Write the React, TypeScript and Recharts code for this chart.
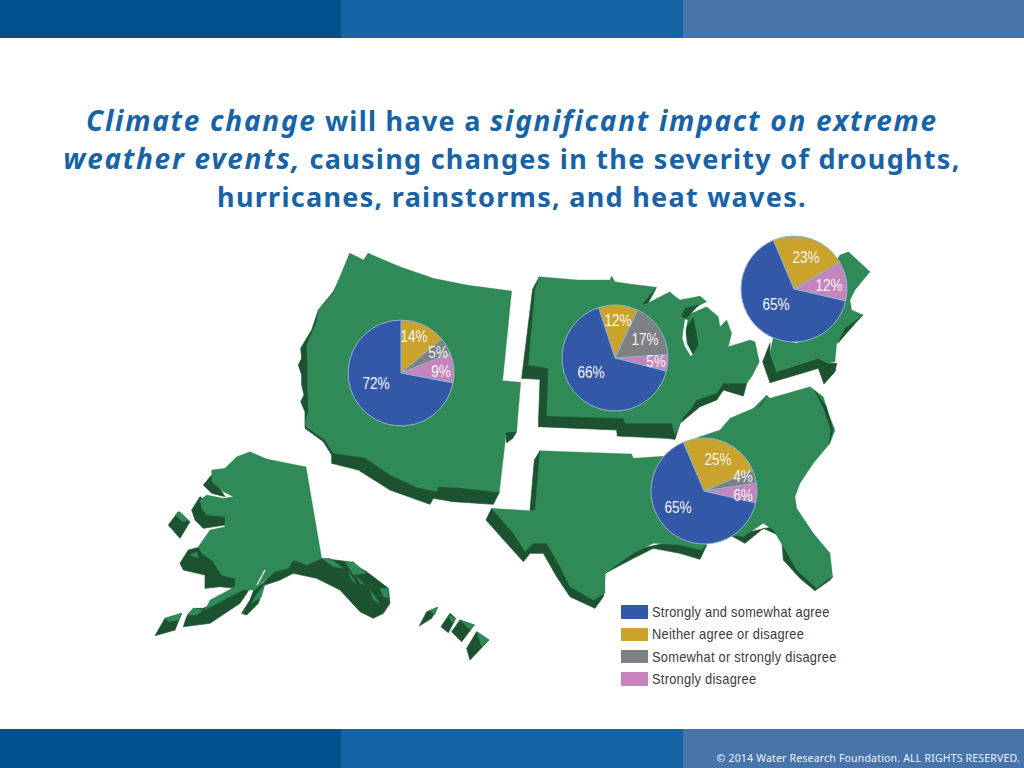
import { Legend, Pie, PieChart } from 'recharts'

const WIDTH = 1024
const HEIGHT = 768

// answer categories, same order in every pie (clockwise from the start angle)
const categories = ['Neither agree or disagree', 'Somewhat or strongly disagree', 'Strongly disagree', 'Strongly and somewhat agree']
const legendOrder = [3, 0, 1, 2]

const westValues = [14, 5, 9, 72]
const midwestValues = [12, 17, 5, 66]
const northeastValues = [23, 0, 12, 65]
const southValues = [25, 4, 6, 65]

const COLORS = ['#c9a32c', '#7e8083', '#c584bc', '#3458a8']
const GREEN = '#2f8a57'
const DARK = '#1c5230'

// pie placement, label nudges from pie centre
const R = 53
const pies = [
  { name: 'West', values: westValues, cx: 401, cy: 373, start: 0, offsets: [[13, -37], [37, -21], [40, -2], [-25, 10]] },
  { name: 'Midwest', values: midwestValues, cx: 615, cy: 358, start: -18, offsets: [[3, -38], [30, -19], [41, 3], [-24, 14]] },
  { name: 'Northeast', values: northeastValues, cx: 794, cy: 289, start: -23, offsets: [[12, -32], [0, 0], [35, -4], [-18, 15]] },
  { name: 'South', values: southValues, cx: 704, cy: 491, start: -23, offsets: [[14, -32], [39, -15], [39, 4], [-26, 16]] },
]

// map outlines, traced in 3x crop coordinates
const westShadow = [
  '180,55 150,130 130,170 85,225 65,285 32,340 35,370 25,390 35,420 35,450 42,480 32,500 45,530 45,580 100,620 125,660 125,685 205,705 300,765 420,808 430,790 490,800 610,808 628,772 400,700 200,600 100,300',
  '222,75 212,105 235,55',
  '680,590 668,610 650,623 645,590',
]
const westLand = '180,55 222,75 235,55 330,95 430,130 530,150 665,168 638,437 692,442 680,590 648,592 645,625 628,772 505,758 445,755 440,770 380,757 300,720 225,668 130,655 120,640 105,615 48,575 45,560 55,530 52,440 52,380 50,330 80,260 85,225 130,175 160,100'

const midwestShadow = [
  '58,140 38,178 5,445 60,448 55,590 290,600 292,618 440,625 465,628 480,580 510,555 540,530 590,510 610,480 670,498 680,460 400,400 100,300',
]
const midwestLand = '58,140 175,150 270,150 275,138 285,155 330,162 410,172 385,218 450,185 460,195 480,210 540,198 560,215 540,225 495,250 480,265 560,230 595,260 600,290 620,270 635,310 625,350 690,330 705,335 718,395 695,440 680,460 610,460 590,490 530,510 510,540 490,560 465,615 455,580 315,580 310,565 80,558 85,415 25,405 45,180'
const midwestOver = [
  '483,262 495,235 540,222 500,265',
  '500,290 520,262 530,310 535,345 520,372 505,345 497,310',
  '410,172 385,218 365,225',
]
const lakeWhite = '495,268 490,300 487,325 495,350 512,378 518,374 500,340 497,300 503,270'

const northeastShadow = ['750,340 728,395 750,458 895,415 912,462 945,425 950,400 925,400 895,385 770,425 750,370']
const northeastLand = '960,75 985,65 1050,125 1005,180 990,210 995,240 1030,255 1010,275 950,340 945,395 925,400 895,385 770,425 750,370 760,320 830,340 900,300 975,210 950,90'
const northeastOver = ['1030,255 1010,275 950,345 975,295']

const southShadow = [
  '180,212 163,240 150,392 180,392',
  '35,385 18,420 85,495 130,545 150,520 190,520 230,590 270,650 345,685 370,650 375,580 300,500 100,440',
  '375,580 460,535 520,505 600,520 660,538 680,495 600,480 460,510',
  '750,465 795,490 850,445 905,470 910,540 960,595 1005,632 1050,600 1058,590 1010,610 950,560 880,440 790,460',
]
const southLand = '180,212 455,222 460,235 560,228 610,190 660,170 720,150 750,115 820,85 860,45 870,55 990,20 1030,50 1045,100 1065,150 1050,190 1000,250 960,310 945,350 950,385 1000,460 1050,520 1058,590 1040,600 1010,625 950,570 910,500 880,450 850,430 790,470 750,465 680,490 665,510 600,495 520,490 460,520 375,580 375,640 340,660 270,620 240,560 200,490 160,490 135,515 100,460 35,385 150,392 165,390'
const southOver = ['1000,25 1040,80 1060,150 1045,200 1052,150 1030,85', '860,45 845,75 835,85']

const alaskaShadow = [
  '190,135 215,105 255,170 215,160',
  '155,210 180,170 260,230 255,255 190,265 165,240',
  '120,370 145,330 185,320 220,365 245,405 285,415 285,445 240,440 195,445 195,405 130,390',
  '285,440 330,445 300,490 210,550 130,560 140,530 160,505 190,505 260,470',
  '305,520 330,480 345,440 375,430 355,490 320,525',
  '360,440 400,395 440,360 460,360 500,370 545,355 625,365 680,395 745,445 750,490 730,520 700,535 660,515 600,450 530,415 460,400 420,420',
  '85,255 115,215 150,245 120,295',
  '45,587 75,535 125,520 105,570',
  '838,558 860,515 893,502 875,535',
  '903,560 930,520 947,535 925,578',
  '935,575 960,540 1003,555 965,605',
  '980,625 1010,575 1047,600 990,660',
]
const alaskaLand = [
  '215,90 255,85 290,50 330,35 375,55 395,60 470,75 498,80 545,355 500,375 460,360 445,385 405,395 370,425 345,450 310,450 260,475 195,510 210,480 285,440 285,415 245,405 220,365 185,340 175,320 210,270 255,260 255,230 200,225 185,205 180,180 200,165 250,175 280,170 250,155 215,125',
  '545,355 570,355 610,385 580,380',
  '615,365 640,365 680,400 640,405',
  '625,395 650,430 635,420',
  '650,410 675,435 660,430',
  '690,450 720,490 700,480',
  '720,445 745,445 745,475 730,470',
  '105,225 120,215 145,240 128,245',
  '75,535 125,520 115,540 85,545',
  '140,525 160,505 190,510 170,525',
  '870,512 893,502 885,525',
  '925,525 947,535 935,548',
  '960,540 1003,555 990,570',
  '1010,575 1047,600 1025,620',
  '150,345 170,335 175,355',
  '345,470 375,430 365,470 335,490',
]

function Shapes({ ox, oy, shadow, land, over = [] }: { ox: number; oy: number; shadow: string[]; land: string[]; over?: string[] }) {
  return (
    <g transform={`translate(${ox},${oy}) scale(${1 / 3})`}>
      {shadow.map((p) => <polygon key={p} points={p} fill={DARK} stroke={DARK} strokeWidth={2} strokeLinejoin="round" />)}
      {land.map((p) => <polygon key={p} points={p} fill={GREEN} stroke={GREEN} strokeWidth={1} strokeLinejoin="round" />)}
      {over.map((p) => <polygon key={p} points={p} fill={DARK} />)}
    </g>
  )
}

function UsaMap() {
  return (
    <svg width={WIDTH} height={HEIGHT} style={{ position: 'absolute', left: 0, top: 0 }}>
      <Shapes ox={290} oy={235} shadow={westShadow} land={[westLand]} />
      <Shapes ox={520} oy={230} shadow={midwestShadow} land={[midwestLand]} over={midwestOver} />
      <g transform={`translate(520,230) scale(${1 / 3})`}>
        <polygon points={lakeWhite} fill="#fff" />
      </g>
      <Shapes ox={520} oy={230} shadow={northeastShadow} land={[northeastLand]} over={northeastOver} />
      <Shapes ox={480} oy={380} shadow={southShadow} land={[southLand]} over={southOver} />
      <Shapes ox={140} oy={440} shadow={alaskaShadow} land={alaskaLand} />
      <polyline points="257,585 265,570" fill="none" stroke="#fff" strokeWidth={1.2} />
    </svg>
  )
}

const sliceLabel = (offsets: number[][], pcx: number, pcy: number) => (props: any) => {
  if (!props.value) return null
  const [dx, dy] = offsets[props.index]
  return (
    <text
      transform={`translate(${pcx + dx},${pcy + dy}) scale(0.8,1)`}
      textAnchor="middle"
      dominantBaseline="central"
      fill="#f4f4f0"
      fontFamily="'Liberation Sans', sans-serif"
      fontSize={17}
    >
      {props.value}%
    </text>
  )
}

function LegendBox() {
  return (
    <div style={{ width: 280 }}>
      {legendOrder.map((i) => (
        <div key={categories[i]} style={{ display: 'flex', alignItems: 'center', height: 22.3 }}>
          <span style={{ display: 'block', flexShrink: 0, width: 27, height: 13.5, background: COLORS[i], marginRight: 4 }} />
          <span
            style={{
              fontFamily: "'Liberation Sans', sans-serif", fontSize: 14.5, color: '#3a3a42', letterSpacing: 0.3,
              whiteSpace: 'nowrap', transform: 'scaleX(0.885)', transformOrigin: 'left center',
            }}
          >
            {categories[i]}
          </span>
        </div>
      ))}
    </div>
  )
}

const bandStyle = (left: number, width: number, background: string, top: number, height: number) => ({
  position: 'absolute' as const, left, top, width, height, background,
})

function Bands({ top, height }: { top: number; height: number }) {
  return (
    <>
      <div style={bandStyle(0, 341, '#03508f', top, height)} />
      <div style={bandStyle(341, 342, '#1562a4', top, height)} />
      <div style={bandStyle(683, 341, '#4874ac', top, height)} />
    </>
  )
}

const titleFont = "'Noto Sans', sans-serif"
const em = { fontStyle: 'italic', fontSize: 28, lineHeight: '30px', letterSpacing: 1.72 }

export default function App() {
  return (
    <div style={{ position: 'absolute', left: 0, top: 0, width: WIDTH, height: HEIGHT, background: '#fff', overflow: 'hidden' }}>
      <Bands top={0} height={38} />
      <Bands top={729} height={39} />
      <div
        style={{
          position: 'absolute', left: 0, top: 102, width: WIDTH, textAlign: 'center', color: '#1763a5',
          fontFamily: titleFont, fontWeight: 700, fontSize: 27, lineHeight: '38px', letterSpacing: 1.28,
        }}
      >
        <div style={{ height: 38 }}><span style={em}>Climate change</span> will have a <span style={em}>significant impact on extreme</span></div>
        <div style={{ height: 38 }}><span style={em}>weather events,</span> causing changes in the severity of droughts,</div>
        <div style={{ height: 38 }}>hurricanes, rainstorms, and heat waves.</div>
      </div>
      <div
        style={{
          position: 'absolute', right: 4, top: 751, color: '#eef2f7', fontFamily: "'Noto Sans', sans-serif",
          fontSize: 10.5, lineHeight: '14px', letterSpacing: 0.19, whiteSpace: 'nowrap',
        }}
      >
        © 2014 Water Research Foundation. ALL RIGHTS RESERVED.
      </div>
      <UsaMap />
      <div style={{ position: 'absolute', left: 0, top: 0 }}>
        <PieChart width={WIDTH} height={HEIGHT} margin={{ top: 0, right: 0, bottom: 0, left: 0 }}>
          {pies.map((p) => (
            <Pie
              key={p.name}
              data={p.values.map((value, i) => ({ name: categories[i], value, fill: COLORS[i] }))}
              dataKey="value"
              nameKey="name"
              cx={p.cx}
              cy={p.cy}
              outerRadius={R}
              startAngle={90 - p.start}
              endAngle={90 - p.start - 360}
              stroke="#8fb4cf"
              strokeWidth={1}
              label={sliceLabel(p.offsets, p.cx, p.cy)}
              labelLine={false}
              isAnimationActive={false}
            />
          ))}
          <Legend
            content={<LegendBox />}
            layout="vertical"
            wrapperStyle={{ position: 'absolute', left: 621, top: 601, width: 280 }}
          />
        </PieChart>
      </div>
    </div>
  )
}
